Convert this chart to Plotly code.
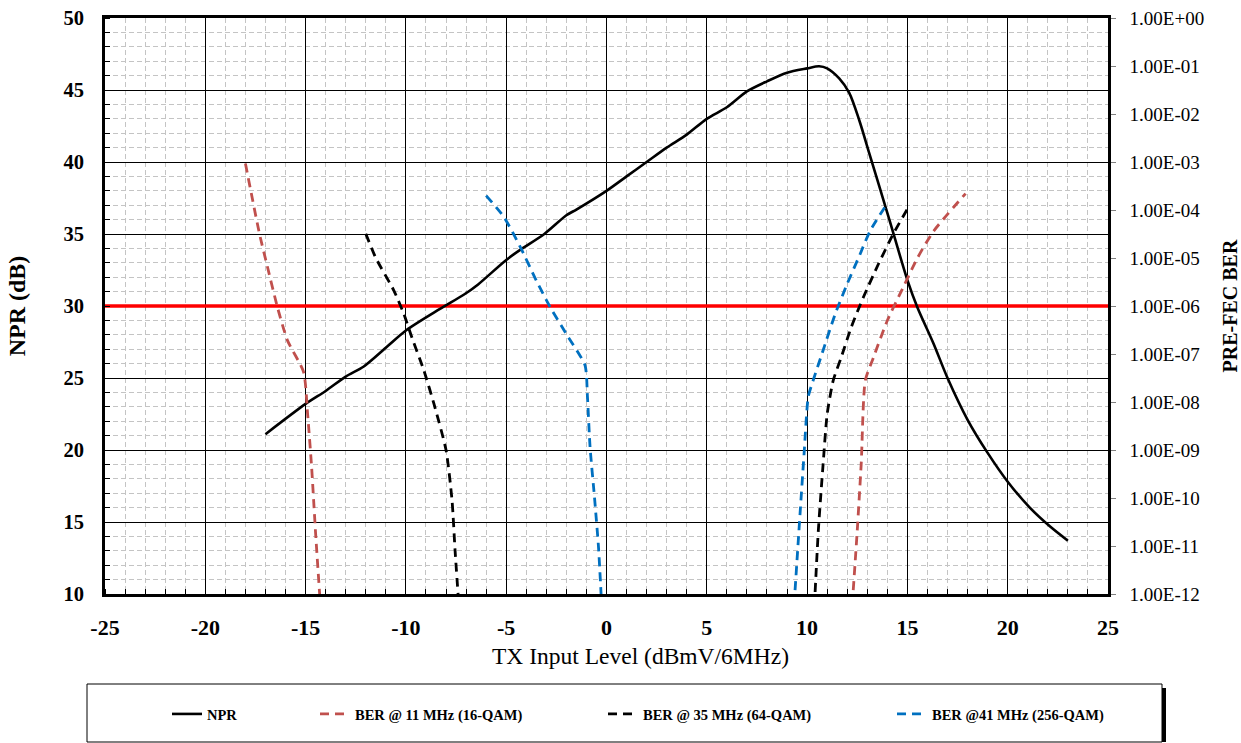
import plotly.graph_objects as go

# ---------------- data ----------------
npr_x = [-17.0, -15.0, -14.0, -13.0, -12.1, -11.0, -10.0, -8.3, -7.1, -6.4, -5.0, -4.3, -3.1, -2.0, -1.5,
         0.0, 1.0, 2.0, 3.0, 4.0, 5.0, 6.0, 7.0, 8.0, 9.0, 10.0, 10.6, 11.0, 11.6, 12.1, 12.6, 13.1,
         13.6, 14.1, 15.0, 15.5, 16.3, 17.0, 18.0, 19.0, 20.0, 21.1, 22.1, 23.0]
npr_y = [21.1, 23.2, 24.1, 25.1, 25.8, 27.1, 28.3, 29.8, 30.8, 31.5, 33.2, 33.9, 35.0, 36.3, 36.7,
         38.0, 39.0, 40.0, 41.0, 41.9, 43.0, 43.8, 44.9, 45.6, 46.2, 46.5, 46.65, 46.5, 45.8, 44.8, 42.9, 40.6,
         38.3, 36.0, 31.8, 29.9, 27.4, 25.0, 22.1, 19.8, 17.8, 16.0, 14.7, 13.7]

ber11_x = [-18.0, -17.3, -16.9, -16.4, -15.9, -15.1, -14.9, -14.7, -14.5, -14.3, None,
           12.3, 12.5, 12.7, 12.9, 13.3, 14.0, 14.8, 15.5, 16.3, 17.9]
ber11_y = [9.3e-4, 3.2e-5, 6.5e-6, 9.3e-7, 1.9e-7, 4.2e-8, 5.6e-9, 4.4e-10, 1.8e-11, 1.0e-12, None,
           1.2e-12, 2.1e-11, 5.4e-10, 2.8e-8, 8.3e-8, 5.0e-7, 2.5e-6, 1.0e-5, 3.6e-5, 2.2e-4]

ber35_x = [-12.0, -11.5, -10.6, -10.1, -9.7, -9.1, -8.6, -8.0, -7.7, -7.55, -7.4, None,
           10.4, 10.56, 10.8, 11.0, 11.3, 11.7, 12.2, 12.8, 13.55, 14.3, 15.0]
ber35_y = [3.2e-5, 1.0e-5, 2.1e-6, 6.8e-7, 2.2e-7, 4.5e-8, 9.1e-9, 1.0e-9, 8.9e-11, 8.2e-12, 1.0e-12, None,
           1.1e-12, 2.1e-11, 5.2e-10, 5.6e-9, 2.8e-8, 8.5e-8, 3.6e-7, 1.5e-6, 7.4e-6, 3.2e-5, 1.05e-4]

ber41_x = [-6.0, -5.1, -4.3, -3.5, -2.8, -2.0, -1.07, -0.95, -0.82, -0.6, -0.4, -0.27, None,
           9.4, 9.65, 9.85, 10.06, 10.3, 10.8, 11.4, 12.0, 12.64, 13.13, 13.96]
ber41_y = [2.0e-4, 7.0e-5, 1.7e-5, 3.4e-6, 9.3e-7, 2.6e-7, 5.8e-8, 1.3e-8, 1.15e-9, 1.05e-10, 9.6e-12, 1.0e-12, None,
           1.2e-12, 4.8e-11, 8.4e-10, 1.3e-8, 2.8e-8, 1.2e-7, 6.8e-7, 2.9e-6, 1.2e-5, 3.6e-5, 1.3e-4]

npr_threshold = 30
x_range = [-25, 25]
x_ticks = [-25, -20, -15, -10, -5, 0, 5, 10, 15, 20, 25]
x_ticktext = ["-25", "-20", "-15", "-10", "-5", "0", "5", "10", "15", "20", "25"]
y_ticks = [10, 15, 20, 25, 30, 35, 40, 45, 50]
ber_exponents = list(range(-12, 1))
ber_tickvals = [10.0 ** e for e in ber_exponents]
ber_ticktext = ["1.00E+00" if e == 0 else "1.00E-%02d" % (-e) for e in ber_exponents]

FONT = "Liberation Serif"

# ---------------- figure ----------------
fig = go.Figure()

# threshold line (drawn first so the curves sit above it)
fig.add_trace(go.Scatter(x=x_range, y=[npr_threshold, npr_threshold], mode="lines", showlegend=False,
                         hoverinfo="skip", line=dict(color="#FF0000", width=3.5)))

fig.add_trace(go.Scatter(x=npr_x, y=npr_y, name="NPR", mode="lines",
                         line=dict(color="black", width=2.6, shape="spline", smoothing=0.8),
                         legend="legend"))
fig.add_trace(go.Scatter(x=ber11_x, y=ber11_y, name="BER @ 11 MHz (16-QAM)", mode="lines", yaxis="y2",
                         connectgaps=False,
                         line=dict(color="#C0504D", width=2.8, dash="9px,6px", shape="spline", smoothing=0.6),
                         legend="legend2"))
fig.add_trace(go.Scatter(x=ber35_x, y=ber35_y, name="BER @ 35 MHz (64-QAM)", mode="lines", yaxis="y2",
                         connectgaps=False,
                         line=dict(color="black", width=2.8, dash="9px,6px", shape="spline", smoothing=0.6),
                         legend="legend3"))
fig.add_trace(go.Scatter(x=ber41_x, y=ber41_y, name="BER @41 MHz (256-QAM)", mode="lines", yaxis="y2",
                         connectgaps=False,
                         line=dict(color="#0070C0", width=2.8, dash="9px,6px", shape="spline", smoothing=0.6),
                         legend="legend4"))

# legend frame + shadow (paper coordinates from pixel positions)
W, H = 1003.0, 576.0
def px_x(p):
    return (p - 105) / W
def px_y(p):
    return (594 - p) / H

fig.add_shape(type="rect", xref="paper", yref="paper", x0=px_x(1162), x1=px_x(1166), y0=px_y(742), y1=px_y(688),
              line=dict(width=0), fillcolor="black", layer="above")
fig.add_shape(type="rect", xref="paper", yref="paper", x0=px_x(87), x1=px_x(1162), y0=px_y(742), y1=px_y(684),
              line=dict(color="black", width=1), fillcolor="rgba(0,0,0,0)", layer="above")

fig.add_annotation(text="TX Input Level (dBmV/6MHz)", xref="paper", yref="paper",
                   x=px_x(640), y=px_y(656), xanchor="center", yanchor="middle", showarrow=False,
                   font=dict(family=FONT, size=23.5, color="black"))

leg_common = dict(orientation="h", yanchor="middle", xanchor="left", y=px_y(714),
                  bgcolor="rgba(0,0,0,0)", borderwidth=0,
                  font=dict(family=FONT, size=14.5, color="black", weight="bold"))

MINOR = dict(dtick=1, showgrid=True, gridcolor="#C4C4C4", gridwidth=1, griddash="5px,3px",
             ticks="inside", ticklen=5, tickcolor="black")

fig.update_layout(
    width=1241, height=743,
    margin=dict(l=105, r=133, t=18, b=149, autoexpand=False),
    paper_bgcolor="white", plot_bgcolor="white",
    font=dict(family=FONT, color="black"),
    showlegend=True,
    legend=dict(x=px_x(167), **leg_common),
    legend2=dict(x=px_x(315), **leg_common),
    legend3=dict(x=px_x(603), **leg_common),
    legend4=dict(x=px_x(892), **leg_common),
    xaxis=dict(range=x_range, tickvals=x_ticks, ticktext=x_ticktext, showgrid=True, gridcolor="black",
               gridwidth=1.3, zeroline=False, showline=True, linecolor="black", linewidth=2.6, mirror=True,
               ticks="", ticklabelstandoff=12, automargin=False,
               tickfont=dict(family=FONT, size=22, color="black", weight="bold"),
               minor=MINOR),
    yaxis=dict(range=[10, 50], tickvals=y_ticks, showgrid=True, gridcolor="black", gridwidth=1.3,
               zeroline=False, showline=True, linecolor="black", linewidth=2.6, mirror=False,
               ticks="", ticklabelstandoff=14, automargin=False,
               tickfont=dict(family=FONT, size=20.5, color="black", weight="bold"),
               minor=MINOR,
               title=dict(text="NPR (dB)", standoff=32,
                          font=dict(family=FONT, size=24, color="black", weight="bold"))),
    yaxis2=dict(type="log", range=[-12, 0], overlaying="y", side="right",
                tickvals=ber_tickvals, ticktext=ber_ticktext, showgrid=False, zeroline=False,
                showline=True, linecolor="black", linewidth=2.6,
                ticks="outside", ticklen=5, tickcolor="#808080", ticklabelstandoff=10, automargin=False,
                tickfont=dict(family=FONT, size=19, color="black"),
                title=dict(text="PRE-FEC BER", standoff=20,
                           font=dict(family=FONT, size=20, color="black", weight="bold"))),
)

fig.write_html("out.html")
